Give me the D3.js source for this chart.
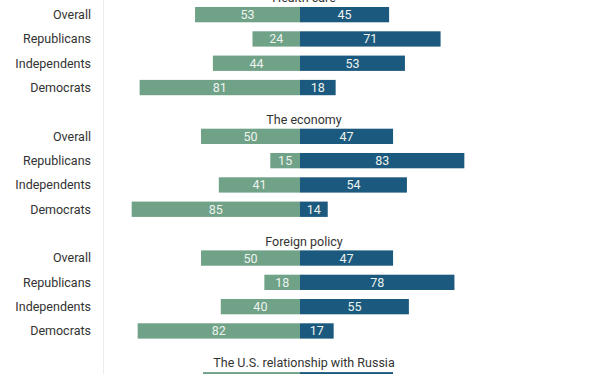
<!DOCTYPE html>
<html>
<head>
<meta charset="utf-8">
<script src="https://cdn.jsdelivr.net/npm/d3@7"></script>
<style>
	body { margin: 0; background: #fff; }
	svg { display: block; font-family: Roboto, "Noto Sans", sans-serif; }
</style>
</head>
<body>
<script>
// topics and rows
const topics = ["Health care", "The economy", "Foreign policy", "The U.S. relationship with Russia"];
const groups = ["Overall", "Republicans", "Independents", "Democrats"];

// left (green) and right (blue) shares, one row per topic
const greenValues = [
	[53, 24, 44, 81],
	[50, 15, 41, 85],
	[50, 18, 40, 82],
	[49, null, null, null]
];
const blueValues = [
	[45, 71, 53, 18],
	[47, 83, 54, 14],
	[47, 78, 55, 17],
	[47, null, null, null]
];

var width = 612,
	height = 374;

var svg = d3.select("body").append("svg").attr("width", width).attr("height", height);

var x = d3.scaleLinear().domain([-100, 100]).range([102, 498]);

// each topic block
var topicY = d3.scaleBand().domain(topics).range([-14.7, -14.7 + 121.7 * topics.length]);
var rowY = d3.scaleBand().domain(groups).range([17.2, 17.2 + 24.3 * groups.length]).paddingInner(0.37).paddingOuter(0.185);

// light divider next to the labels
svg.append("line")
	.attr("x1", 103.5).attr("x2", 103.5)
	.attr("y1", 0).attr("y2", height)
	.style("stroke", "#ececec")
	.style("stroke-width", 1);

topics.forEach(function (t, ti) {
	var g = svg.append("g").attr("transform", "translate(0," + topicY(t) + ")");

	g.append("text")
		.attr("x", 304)
		.attr("y", 17)
		.attr("text-anchor", "middle")
		.style("font-size", "12.5px")
		.style("fill", "#333")
		.text(t);

	groups.forEach(function (name, gi) {
		var gv = greenValues[ti][gi],
			bv = blueValues[ti][gi];
		if (gv == null) return;
		var y = rowY(name),
			h = rowY.bandwidth();

		g.append("text")
			.attr("x", 91)
			.attr("y", y + h / 2)
			.attr("dy", "0.35em")
			.attr("text-anchor", "end")
			.style("font-size", "12.5px")
			.style("fill", "#333")
			.text(name);

		g.append("rect")
			.attr("x", x(-gv))
			.attr("y", y)
			.attr("width", x(0) - x(-gv))
			.attr("height", h)
			.style("fill", "#6fa287");

		g.append("rect")
			.attr("x", x(0))
			.attr("y", y)
			.attr("width", x(bv) - x(0))
			.attr("height", h)
			.style("fill", "#1b5a7e");

		g.append("text")
			.attr("x", (x(-gv) + x(0)) / 2)
			.attr("y", y + h / 2)
			.attr("dy", "0.36em")
			.attr("text-anchor", "middle")
			.style("font-size", "12.5px")
			.style("fill", "#eef3ef")
			.text(gv);

		g.append("text")
			.attr("x", (x(bv) + x(0)) / 2)
			.attr("y", y + h / 2)
			.attr("dy", "0.36em")
			.attr("text-anchor", "middle")
			.style("font-size", "12.5px")
			.style("fill", "#eef3ef")
			.text(bv);
	});
});
</script>
</body>
</html>
